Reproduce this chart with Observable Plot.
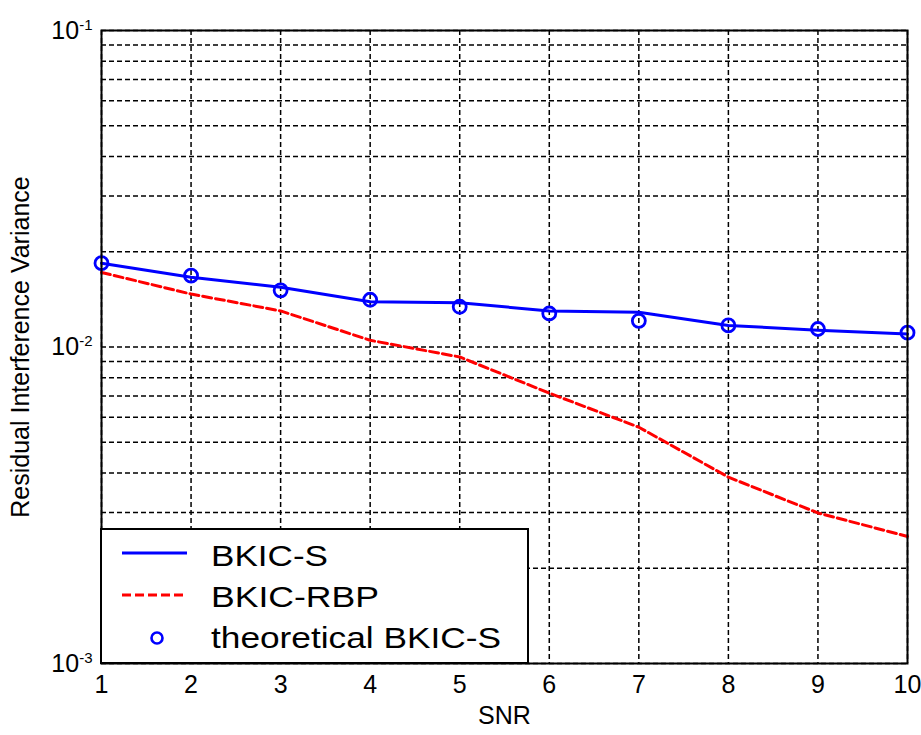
<!DOCTYPE html>
<html><head><meta charset="utf-8">
<script src="https://cdn.jsdelivr.net/npm/d3@7"></script>
<script src="https://cdn.jsdelivr.net/npm/@observablehq/plot@0.6"></script>
<style>
body{margin:0;background:#fff;}
#wrap{position:relative;width:921px;height:735px;overflow:hidden;}
#legend{position:absolute;left:100px;top:528px;}
</style></head><body><div id="wrap"></div>
<script>
const snr = [1, 2, 3, 4, 5, 6, 7, 8, 9, 10];
const bkicS = [0.0184, 0.0166, 0.01545, 0.0139, 0.0138, 0.0130, 0.01287, 0.0117, 0.0113, 0.0110];
const bkicRBP = [0.0172, 0.0147, 0.0130, 0.0105, 0.0093, 0.00715, 0.00558, 0.00388, 0.00299, 0.00252];
const theoBkicS = [0.0184, 0.0168, 0.0151, 0.0141, 0.0134, 0.01276, 0.0121, 0.0117, 0.0114, 0.0111];
const yTicks = [0.001, 0.01, 0.1];
const seriesNames = ["BKIC-S", "BKIC-RBP", "theoretical BKIC-S"];
const xLabel = "SNR";
const yLabel = "Residual Interference Variance";

const rowsS = snr.map((x, i) => ({x, y: bkicS[i]}));
const rowsR = snr.map((x, i) => ({x, y: bkicRBP[i]}));
const rowsT = snr.map((x, i) => ({x, y: theoBkicS[i]}));
const yDomain = [yTicks[0], yTicks[yTicks.length - 1]];
const gridY = d3.scaleLog().domain(yDomain).ticks();
const gridX = snr;

const gridStyle = {stroke: "#000", strokeWidth: 1.5, strokeDasharray: "5,3", strokeOpacity: 1};
const tickFont = "'Liberation Sans Narrow','Liberation Sans',Arial,sans-serif";
const labelFont = "'Liberation Sans',Arial,sans-serif";

const chart = Plot.plot({
  width: 921, height: 735,
  marginLeft: 101, marginRight: 14, marginTop: 30, marginBottom: 72,
  style: {fontFamily: tickFont, fontSize: "25px", background: "#fff", color: "#000"},
  x: {domain: [snr[0], snr[snr.length - 1]]},
  y: {type: "log", domain: yDomain},
  marks: [
    Plot.ruleX(gridX, {x: d => d, ...gridStyle}),
    Plot.ruleY(gridY, {y: d => d, ...gridStyle}),
    Plot.axisX({ticks: snr, tickSize: 0, tickPadding: 12, tickFormat: d => String(d), label: xLabel, labelAnchor: "center", labelArrow: "none", labelOffset: 60}),
    Plot.axisY({ticks: yTicks, tickSize: 0, tickPadding: 9, tickFormat: d => "10^" + Math.round(Math.log10(d)), label: yLabel, labelAnchor: "center", labelArrow: "none", labelOffset: 90}),
    Plot.line(rowsR, {x: "x", y: "y", stroke: "#ff0000", strokeWidth: 3, strokeDasharray: "9,4"}),
    Plot.line(rowsS, {x: "x", y: "y", stroke: "#0000ff", strokeWidth: 3}),
    Plot.dot(rowsT, {x: "x", y: "y", r: 6.5, stroke: "#0000ff", strokeWidth: 2.8, fill: "none"}),
    Plot.frame({stroke: "#000", strokeWidth: 2})
  ]
});
document.getElementById("wrap").appendChild(chart);

const svg = d3.select(chart);
svg.selectAll('g[aria-label="x-axis tick label"] text, g[aria-label="y-axis tick label"] text')
  .style("font-size", "25px").style("font-family", tickFont);
// superscript exponents on y tick labels
svg.selectAll('g[aria-label="y-axis tick label"] text').each(function() {
  const t = d3.select(this);
  const parts = t.text().split("^");
  if (parts.length === 2) {
    t.text(parts[0]);
    t.append("tspan").attr("dy", "-0.6em").style("font-size", "15px").text(parts[1]);
  }
});
svg.selectAll('g[aria-label="y-axis label"] text')
  .style("font-family", labelFont).style("font-size", "25px");
svg.selectAll('g[aria-label="x-axis label"] text')
  .style("font-family", tickFont).style("font-size", "25px");

// legend box
const lg = d3.select("#wrap").append("svg").attr("id", "legend").attr("width", 430).attr("height", 137);
lg.append("rect").attr("x", 1).attr("y", 1).attr("width", 427).attr("height", 134)
  .attr("fill", "#fff").attr("stroke", "#000").attr("stroke-width", 2);
const ent = [
  {name: seriesNames[0], cy: 25, base: 37.5, len: 117},
  {name: seriesNames[1], cy: 67, base: 79, len: 168},
  {name: seriesNames[2], cy: 110, base: 120, len: 290}
];
lg.append("line").attr("x1", 22).attr("x2", 87).attr("y1", ent[0].cy).attr("y2", ent[0].cy)
  .attr("stroke", "#0000ff").attr("stroke-width", 3);
lg.append("line").attr("x1", 22).attr("x2", 87).attr("y1", ent[1].cy).attr("y2", ent[1].cy)
  .attr("stroke", "#ff0000").attr("stroke-width", 3).attr("stroke-dasharray", "9,4");
lg.append("circle").attr("cx", 57).attr("cy", ent[2].cy).attr("r", 5.5)
  .attr("fill", "none").attr("stroke", "#0000ff").attr("stroke-width", 2.6);
ent.forEach(e => {
  lg.append("text").attr("x", 111).attr("y", e.base).text(e.name)
    .attr("font-family", labelFont).attr("font-size", 29)
    .attr("textLength", e.len).attr("lengthAdjust", "spacingAndGlyphs");
});
</script></body></html>
